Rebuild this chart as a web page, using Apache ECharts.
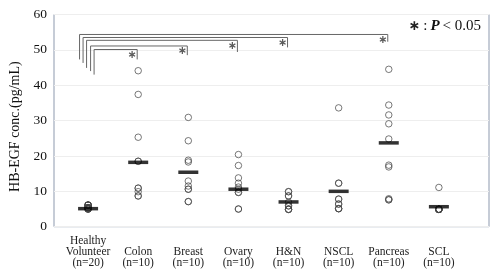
<!DOCTYPE html>
<html><head><meta charset="utf-8">
<script src="https://cdn.jsdelivr.net/npm/echarts@6/dist/echarts.min.js"></script>
<style>html,body{margin:0;padding:0;background:#fff}#c{width:500px;height:275px}</style>
</head><body><div id="c"></div>
<script>
// ---- data ----
const categories = ['Healthy\nVolunteer\n(n=20)', '\nColon\n(n=10)', '\nBreast\n(n=10)', '\nOvary\n(n=10)', '\nH&N\n(n=10)', '\nNSCL\n(n=10)', '\nPancreas\n(n=10)', '\nSCL\n(n=10)'];
const healthy  = [6.1, 6.1, 6.1, 6.1, 6.1, 6.1, 5.3, 5.3, 5.3, 5.3, 5.3, 5.3, 5.3, 5.3, 5.3, 5.3, 5.0, 5.0, 5.0, 5.0];
const colon    = [44.1, 37.4, 25.3, 18.5, 18.5, 10.9, 10.9, 9.9, 8.7, 8.7];
const breast   = [30.9, 24.3, 18.8, 18.3, 12.9, 11.5, 10.6, 10.6, 7.1, 7.1];
const ovary    = [20.4, 17.3, 13.8, 12.3, 11.2, 10.6, 9.7, 9.7, 5.0, 5.0];
const hn       = [9.9, 9.9, 8.7, 8.7, 6.9, 5.9, 5.9, 4.9, 4.9, 4.9];
const nscl     = [33.6, 12.3, 12.3, 7.8, 7.8, 6.4, 6.4, 5.1, 5.1, 5.1];
const pancreas = [44.5, 34.4, 31.6, 29.1, 24.8, 17.4, 16.9, 7.9, 7.6, 7.6];
const scl      = [11.1, 4.9, 4.9, 4.9, 4.9, 4.9, 4.9, 4.9, 4.9, 4.9];
const means    = [5.1, 18.2, 15.4, 10.6, 7.0, 10.0, 23.7, 5.65];
const yTicks   = [0, 10, 20, 30, 40, 50, 60];
// significance brackets: [target group (1-based), left x, top y, left bottom y, right bottom y]
const brackets = [
  [7, 0.83, 54.35, 47.3, 52.3],
  [5, 0.90, 53.5, 46.3, 50.7],
  [4, 0.97, 52.7, 44.9, 49.4],
  [3, 1.05, 51.1, 44.0, 48.5],
  [2, 1.12, 50.1, 43.0, 47.3]
];

const groups = [healthy, colon, breast, ovary, hn, nscl, pancreas, scl];
const pts = [];
groups.forEach((g, i) => g.forEach(v => pts.push([i + 1, v])));
const meanPts = means.map((v, i) => [i + 1, v]);
const serif = "'Liberation Serif','Times New Roman',serif";

const series = [
  {type: 'scatter', data: pts, symbol: 'circle', symbolSize: 6.5, silent: true,
   itemStyle: {color: 'rgba(255,255,255,0)', borderColor: '#444', borderWidth: 0.9}, z: 3},
  {type: 'scatter', data: meanPts, symbol: 'rect', symbolSize: [20, 3.5], silent: true,
   itemStyle: {color: '#000'}, z: 4}
];
brackets.forEach(b => {
  const xr = b[0] - 0.02;
  series.push({type: 'line', symbol: 'none', silent: true, z: 2,
    lineStyle: {color: '#666', width: 1},
    data: [[b[1], b[3]], [b[1], b[2]], [xr, b[2]], [xr, b[4]]]});
});
series.push({type: 'scatter', symbolSize: 0, silent: true, z: 5,
  data: brackets.map(b => [b[0] - 0.12, b[2] - 1.6]),
  label: {show: true, position: 'inside', formatter: '∗', fontSize: 11, fontWeight: 'bold', color: '#333', fontFamily: 'DejaVu Sans'}});

const chart = echarts.init(document.getElementById('c'));
chart.setOption({
  animation: false,
  backgroundColor: '#fff',
  grid: {left: 50, right: 11, top: 14.5, bottom: 48.3, show: true, borderColor: '#8d99ae', borderWidth: 1, containLabel: false},
  xAxis: {type: 'value', min: 0.32, max: 9,
    axisLine: {show: false}, axisTick: {show: false}, splitLine: {show: false},
    axisLabel: {customValues: [1, 2, 3, 4, 5, 6, 7, 8], formatter: v => categories[Math.round(v) - 1] || '',
      fontFamily: serif, fontSize: 11.5, color: '#222', lineHeight: 11, margin: 9}},
  yAxis: {type: 'value', min: yTicks[0], max: yTicks[yTicks.length - 1], interval: 10,
    axisLine: {show: false}, axisTick: {show: false},
    splitLine: {lineStyle: {color: '#eeeeee', width: 1}},
    axisLabel: {fontFamily: serif, fontSize: 13.5, color: '#111', margin: 7},
    name: 'HB-EGF conc.(pg/mL)', nameLocation: 'middle', nameGap: 32,
    nameTextStyle: {fontFamily: serif, fontSize: 14, color: '#111', padding: [0, 12, 0, 0]}},
  graphic: [{type: 'text', right: 19, top: 19, silent: true,
    style: {text: '{a|∗} {b|:} {c|P} {b|< 0.05}', fontFamily: serif,
      rich: {a: {fontSize: 14, fontWeight: 'bold', fontFamily: 'DejaVu Sans', fill: '#222'},
             b: {fontSize: 15, fontFamily: serif, fill: '#111'},
             c: {fontSize: 15, fontWeight: 'bold', fontStyle: 'italic', fontFamily: serif, fill: '#111'}}}}],
  series: series
});
</script></body></html>
